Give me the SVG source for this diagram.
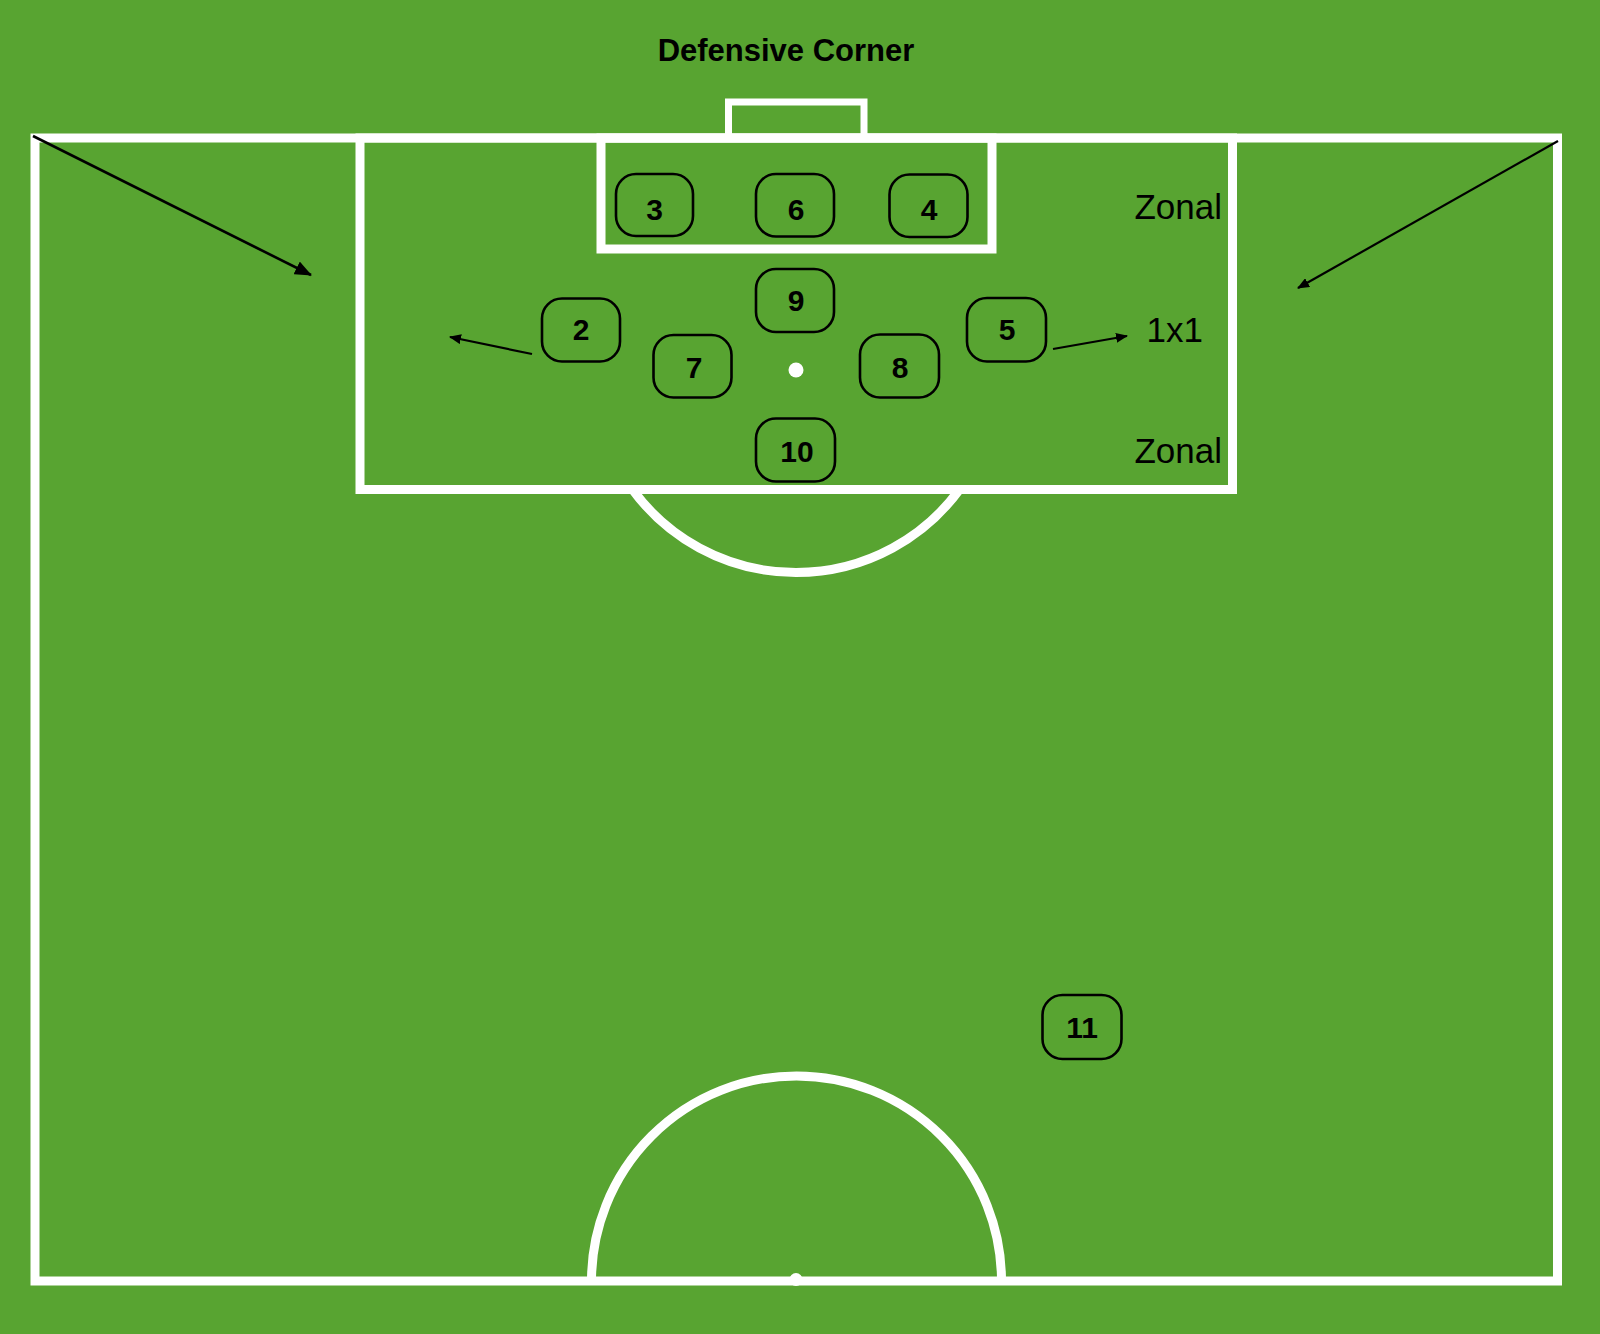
<svg xmlns="http://www.w3.org/2000/svg" width="1600" height="1334" viewBox="0 0 1600 1334">
<style>
.line{fill:none;stroke:#ffffff;stroke-width:9}
.spot{fill:#ffffff}
.player rect{fill:none;stroke:#000000;stroke-width:2.6}
.player text{font-family:"Liberation Sans",Arial,sans-serif;font-weight:bold;font-size:30px;fill:#000000;text-anchor:middle}
.label{font-family:"Liberation Sans",Arial,sans-serif;font-size:35px;fill:#000000}
.title{font-family:"Liberation Sans",Arial,sans-serif;font-weight:bold;font-size:31px;fill:#000000;text-anchor:middle}
.arrow{fill:none;stroke:#000000}
</style>
<defs>
<marker id="ahBig" markerWidth="17" markerHeight="14" refX="16" refY="7" orient="auto" markerUnits="userSpaceOnUse"><path d="M0,0 L17,7 L0,14 z" fill="#000"/></marker>
<marker id="ahSmall" markerWidth="12" markerHeight="10" refX="11" refY="5" orient="auto" markerUnits="userSpaceOnUse"><path d="M0,0 L12,5 L0,10 z" fill="#000"/></marker>
</defs>
<rect x="0" y="0" width="1600" height="1334" fill="#58a431"/>
<g id="pitch">
<path class="line" d="M728.5,138 V102 H864 V138" style="stroke-width:7"/>
<rect class="line" x="35" y="138" width="1522.5" height="1143"/>
<rect class="line" x="360" y="138" width="872.5" height="351.5"/>
<rect class="line" x="601" y="138" width="391" height="111"/>
<path class="line" d="M632.5,489.5 A202.5,202.5 0 0 0 959.5,489.5"/>
<path class="line" d="M591.5,1281 A205,205 0 0 1 1001.5,1281"/>
<circle class="spot" cx="796" cy="370" r="7.5"/>
<circle class="spot" cx="796" cy="1279.5" r="6.5"/>
</g>
<text class="title" x="786" y="61">Defensive Corner</text>
<g id="p3" class="player"><rect x="616" y="174" width="77" height="62" rx="20"/><text x="654.5" y="220">3</text></g>
<g id="p6" class="player"><rect x="756" y="174" width="78" height="62.5" rx="20"/><text x="796" y="220">6</text></g>
<g id="p4" class="player"><rect x="889.5" y="174.5" width="78" height="62.5" rx="20"/><text x="929" y="220">4</text></g>
<g id="p9" class="player"><rect x="756" y="269" width="78" height="63" rx="20"/><text x="796" y="311">9</text></g>
<g id="p2" class="player"><rect x="542" y="298.5" width="78" height="63" rx="20"/><text x="581" y="340">2</text></g>
<g id="p7" class="player"><rect x="653.5" y="335" width="78" height="62.5" rx="20"/><text x="694" y="378">7</text></g>
<g id="p8" class="player"><rect x="860" y="334.5" width="79" height="63" rx="20"/><text x="900" y="378">8</text></g>
<g id="p5" class="player"><rect x="967" y="298" width="79" height="63.5" rx="20"/><text x="1007" y="340">5</text></g>
<g id="p10" class="player"><rect x="756" y="418.5" width="79" height="63" rx="20"/><text x="797" y="462">10</text></g>
<g id="p11" class="player"><rect x="1042.5" y="995" width="79" height="64" rx="20"/><text x="1082" y="1038">11</text></g>
<text class="label" x="1222" y="219" text-anchor="end">Zonal</text>
<text class="label" x="1203" y="342" text-anchor="end">1x1</text>
<text class="label" x="1222" y="463" text-anchor="end">Zonal</text>
<g id="connectors">
<line class="arrow" x1="33" y1="136" x2="311" y2="275" stroke-width="2.6" marker-end="url(#ahBig)"/>
<line class="arrow" x1="1558" y1="141" x2="1298" y2="288" stroke-width="2.2" marker-end="url(#ahSmall)"/>
<line class="arrow" x1="532" y1="354" x2="450" y2="337" stroke-width="2.2" marker-end="url(#ahSmall)"/>
<line class="arrow" x1="1053" y1="349" x2="1127" y2="336" stroke-width="2.2" marker-end="url(#ahSmall)"/>
</g>
</svg>
